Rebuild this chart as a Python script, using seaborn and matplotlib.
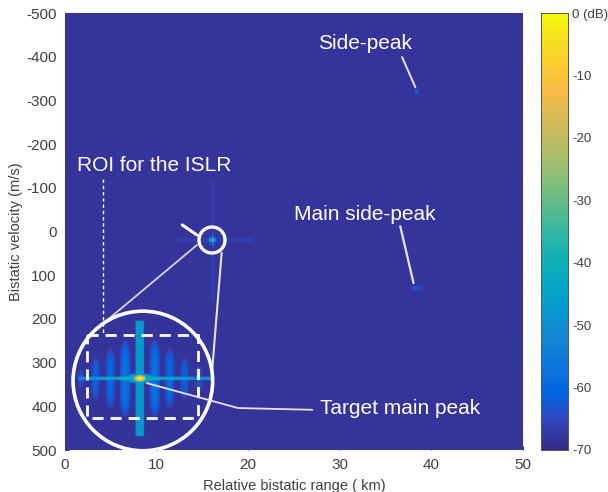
import numpy as np
import matplotlib
matplotlib.use("Agg")
import matplotlib.pyplot as plt
from matplotlib.colors import LinearSegmentedColormap
from matplotlib.patches import Ellipse, Rectangle
import seaborn as sns

# ---------------------------------------------------------------- map grid
RANGE_MAX_KM = 50.0
RANGE_STEP_KM = 0.25
VEL_MIN, VEL_MAX = -500.0, 500.0
VEL_STEP = 5.0
noise_floor_db = -68.3

# responses on the range-Doppler map
target_names = ["Target main peak", "Main side-peak", "Side-peak"]
target_range_km = [16.1, 38.3, 38.4]
target_velocity = [20.0, 130.0, -320.0]
target_level_db = [-38.0, -58.0, -59.0]

# faint range / Doppler cuts through the main peak
doppler_cut_span = [-115.0, 160.0]   # m/s
doppler_cut_db = -65.8
range_cut_span = [12.0, 20.5]        # km
range_cut_db = -66.5

# zoomed detail of the main peak (offsets from the peak)
sidelobe_offset_km = [-1.2, -0.9, -0.6, -0.3, 0.3, 0.6, 0.9, 1.2]
sidelobe_level_db = [-64, -61, -59, -57, -57, -59, -61, -63]
sidelobe_halfspan = [5.0, 9.5, 12.5, 15.5, 15.5, 12.5, 9.5, 6.5]   # m/s
sidelobe_cut_db = [-52, -49, -46, -42, -42, -46, -49, -51]
zoom_peak_db = 0.0
zoom_doppler_db = -47.0
zoom_doppler_halfspan = 24.5
zoom_range_span = [-1.25, 1.46]
zoom_peak_km, zoom_peak_vel = 8.2, 337.0     # where the peak sits in the inset
zoom_magnification = 5.38

# MATLAB parula colour map
parula_anchors = [
    (0.2081, 0.1663, 0.5292), (0.1959, 0.2645, 0.7279), (0.0117, 0.3875, 0.8820),
    (0.0498, 0.4586, 0.8641), (0.0793, 0.5200, 0.8312), (0.0343, 0.5966, 0.8199),
    (0.0228, 0.6535, 0.7768), (0.0843, 0.6928, 0.7062), (0.2178, 0.7250, 0.6193),
    (0.3953, 0.7459, 0.5244), (0.5709, 0.7485, 0.4494), (0.7184, 0.7411, 0.3905),
    (0.8507, 0.7299, 0.3360), (0.9739, 0.7314, 0.2666), (0.9880, 0.8066, 0.1794),
    (0.9589, 0.8949, 0.1132), (0.9763, 0.9831, 0.0538),
]
anchor_pos = [0, 4, 8, 12, 16, 20, 24, 28, 32, 36, 40, 44, 48, 52, 56, 60, 63]
parula = LinearSegmentedColormap.from_list(
    "parula", [(p / 63.0, c) for p, c in zip(anchor_pos, parula_anchors)], N=256)

# ---------------------------------------------------------------- build map
r_centres = np.arange(0, RANGE_MAX_KM, RANGE_STEP_KM) + RANGE_STEP_KM / 2
v_centres = np.arange(VEL_MIN, VEL_MAX, VEL_STEP) + VEL_STEP / 2
R, V = np.meshgrid(r_centres, v_centres)
rd_map = np.full(R.shape, noise_floor_db)

r0, v0 = target_range_km[0], target_velocity[0]
vcut = (np.abs(R - r0) < 0.15) & (V > doppler_cut_span[0]) & (V < doppler_cut_span[1])
rd_map[vcut] = np.maximum(rd_map[vcut], doppler_cut_db)
hcut = (np.abs(V - v0) < 3.0) & (R > range_cut_span[0]) & (R < range_cut_span[1])
rd_map[hcut] = np.maximum(rd_map[hcut], range_cut_db)
for rr, vv, lv in zip(target_range_km, target_velocity, target_level_db):
    spot = lv - 12 * (((R - rr) / 0.3) ** 2 + ((V - vv) / 6.0) ** 2)
    rd_map = np.maximum(rd_map, spot)
# a short range smear on the main side-peak
side_smear = (np.abs(V - target_velocity[1]) < 3.0) & (np.abs(R - target_range_km[1]) < 0.6)
rd_map[side_smear] = np.maximum(rd_map[side_smear], -66.0)

# ---------------------------------------------------------------- zoomed detail
dr = np.arange(-1.5, 1.5, 0.01) + 0.005
dv = np.arange(-32.0, 32.0, 0.25) + 0.125
DR, DV = np.meshgrid(dr, dv)
zoom = np.full(DR.shape, noise_floor_db)
for off, lv, hs in zip(sidelobe_offset_km, sidelobe_level_db, sidelobe_halfspan):
    blob = lv - 8 * (((DR - off) / 0.1) ** 2 + (DV / hs) ** 4)
    zoom = np.maximum(zoom, blob)
# range cut: each stretch takes the level of its nearest lobe
nearest = np.argmin(np.abs(DR[..., None] - np.array(sidelobe_offset_km)), axis=-1)
cut_vals = np.array(sidelobe_cut_db, dtype=float)[nearest]
on_cut = (np.abs(DV) < 0.8) & (DR > zoom_range_span[0]) & (DR < zoom_range_span[1])
zoom[on_cut] = np.maximum(zoom[on_cut], cut_vals[on_cut])
# Doppler cut
on_dop = (np.abs(DR) < 0.085) & (np.abs(DV) < zoom_doppler_halfspan)
zoom[on_dop] = np.maximum(zoom[on_dop], zoom_doppler_db)
# main lobe
zoom = np.maximum(zoom, zoom_peak_db - 30 * ((DR / 0.11) ** 2 + (DV / 1.3) ** 2))
zoom = np.maximum(zoom, -36 - 10 * ((DR / 0.22) ** 2 + (DV / 1.4) ** 2))

# ---------------------------------------------------------------- figure
sns.set_style("white")
plt.rcParams["font.family"] = ["Liberation Sans", "DejaVu Sans"]
TXT = "#404040"

fig = plt.figure(figsize=(6.08, 4.92), dpi=100)
ax_rect = [65 / 608, 1 - 450 / 492, 458 / 608, 437 / 492]
ax = fig.add_axes(ax_rect)
cax = fig.add_axes([541 / 608, 1 - 450 / 492, 27 / 608, 437 / 492])

sns.heatmap(rd_map, ax=ax, cmap=parula, vmin=-70, vmax=0, cbar_ax=cax,
            xticklabels=False, yticklabels=False, rasterized=True)

n_rows, n_cols = rd_map.shape
px_per_col = ax_rect[2] * 608 / n_cols
px_per_row = ax_rect[3] * 492 / n_rows


def cell(r_km, vel):
    return r_km / RANGE_STEP_KM, (vel - VEL_MIN) / VEL_STEP


def round_circle(r_km, vel, radius_km, **kw):
    cx, cy = cell(r_km, vel)
    w = 2 * radius_km / RANGE_STEP_KM
    h = w * px_per_col / px_per_row
    return Ellipse((cx, cy), w, h, fill=False, **kw)


# inset with the zoomed main peak, clipped to the large circle
big = round_circle(8.5, 342.0, 7.62, edgecolor="white", lw=2.6, zorder=6)
ax.add_patch(big)
x0, y_top = cell(zoom_peak_km + dr[0] * zoom_magnification,
                 zoom_peak_vel + dv[0] * zoom_magnification)
x1, y_bot = cell(zoom_peak_km + dr[-1] * zoom_magnification,
                 zoom_peak_vel + dv[-1] * zoom_magnification)
im = ax.imshow(zoom, cmap=parula, vmin=-70, vmax=0, extent=(x0, x1, y_bot, y_top),
               origin="upper", aspect="auto", interpolation="bilinear", zorder=3)
im.set_clip_path(big)

small = round_circle(16.05, 19.5, 1.42, edgecolor="white", lw=2.4, zorder=6)
ax.add_patch(small)


def seg(points, **kw):
    xs, ys = zip(*[cell(r, v) for r, v in points])
    ax.plot(xs, ys, **kw)


# connector lines from the small circle to the inset
seg([(14.4, 31.0), (4.6, 203.0)], color="#d8d4f0", lw=1.3, zorder=5)
seg([(17.1, 49.0), (16.05, 322.0)], color="#e6e3f5", lw=1.5, zorder=5)
seg([(12.8, -15.0), (14.4, 8.0)], color="white", lw=2.2, zorder=6)

# ROI box for the ISLR
rx0, ry0 = cell(2.4, 237.0)
rx1, ry1 = cell(14.5, 427.0)
ax.add_patch(Rectangle((rx0, ry0), rx1 - rx0, ry1 - ry0, fill=False, edgecolor="white",
                       lw=2.0, ls=(0, (4, 2.5)), zorder=7))
seg([(4.15, -120.0), (4.15, 237.0)], color="white", lw=1.0, ls=(0, (2.5, 2)), zorder=7)

# call-outs
seg([(8.95, 347.0), (18.9, 404.0), (27.0, 408.0)], color="#e6e3f5", lw=1.3, zorder=7)
seg([(36.8, -399.0), (38.25, -330.0)], color="#e6e3f5", lw=1.4, zorder=7)
seg([(36.6, -12.0), (38.05, 118.0)], color="#e6e3f5", lw=1.6, zorder=7)

ann_kw = dict(color="white", fontsize=15, va="center", zorder=8)
ax.text(*cell(9.7, -152.0), "ROI for the ISLR", ha="center", **ann_kw)
ax.text(*cell(32.75, -431.0), target_names[2], ha="center", **ann_kw)
ax.text(*cell(32.75, -40.0), target_names[1], ha="center", **ann_kw)
ax.text(*cell(27.8, 404.0), target_names[0], ha="left", **ann_kw)

ax.set_xlim(0, n_cols)
ax.set_ylim(n_rows, 0)

# axes ticks and labels
x_ticks = [0, 10, 20, 30, 40, 50]
y_ticks = [-500, -400, -300, -200, -100, 0, 100, 200, 300, 400, 500]
ax.set_xticks([cell(t, 0)[0] for t in x_ticks])
ax.set_xticklabels([str(t) for t in x_ticks])
ax.set_yticks([cell(0, t)[1] for t in y_ticks])
ax.set_yticklabels([str(t) for t in y_ticks])
ax.tick_params(axis="both", labelsize=11, colors=TXT, direction="in", length=3,
               pad=6, left=True, bottom=True)
ax.set_xlabel("Relative bistatic range ( km)", fontsize=10.5, color=TXT, labelpad=5)
ax.set_ylabel("Bistatic velocity (m/s)", fontsize=10.5, color=TXT, labelpad=2)

cb_ticks = [0, -10, -20, -30, -40, -50, -60, -70]
cax.set_yticks(cb_ticks)
cax.set_yticklabels(["0 (dB)"] + [str(t) for t in cb_ticks[1:]])
cax.tick_params(labelsize=9.5, colors=TXT, direction="in", length=4, width=0.6,
                right=True, left=False, pad=3)
for sp in cax.spines.values():
    sp.set_visible(True)
    sp.set_linewidth(0.6)
    sp.set_color("#555555")
cbar = ax.collections[0].colorbar
cbar.outline.set_linewidth(0.6)
cbar.outline.set_edgecolor("#555555")

fig.savefig("out.png", dpi=100)
